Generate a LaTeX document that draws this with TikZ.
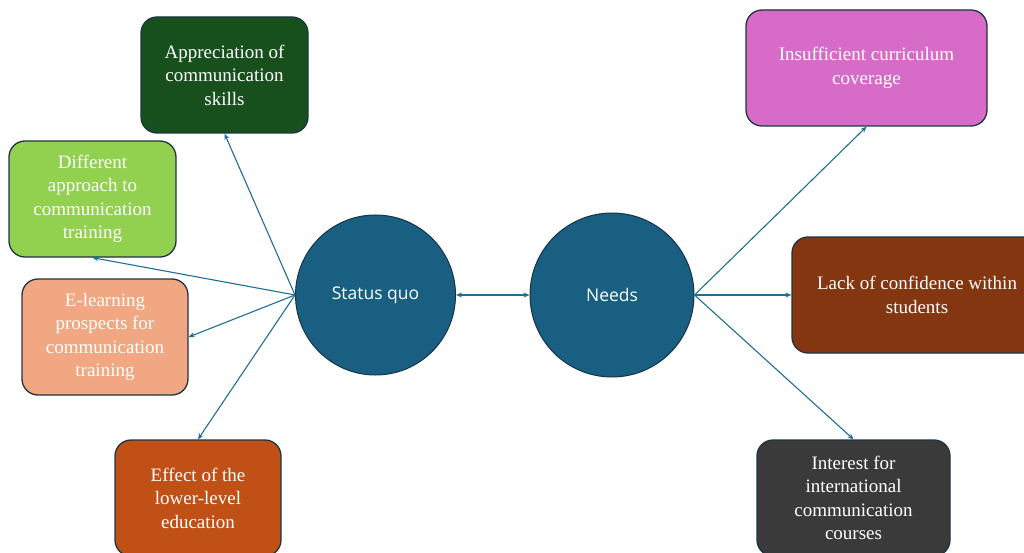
\documentclass[tikz,border=0pt]{standalone}
\usepackage{fontspec}
\setmainfont{Liberation Serif}
\newfontfamily\circfont{Open Sans}
\usetikzlibrary{arrows.meta}
\definecolor{hubblue}{HTML}{185F82}
\definecolor{hubedge}{HTML}{173447}
\definecolor{linkblue}{HTML}{1F6E93}
\definecolor{boxedge}{HTML}{1E3442}
\definecolor{dkgreen}{HTML}{17501D}
\definecolor{ltgreen}{HTML}{92D050}
\definecolor{salmon}{HTML}{F1A882}
\definecolor{rust}{HTML}{C05015}
\definecolor{orchid}{HTML}{D66CC8}
\definecolor{brown}{HTML}{843611}
\definecolor{charcoal}{HTML}{3A3A3A}
\tikzset{
  hub/.style={circle, draw=hubedge, line width=1pt, fill=hubblue, minimum size=160pt,
    text=white, font=\circfont\fontsize{17.5}{21}\selectfont},
  topic/.style={rounded corners=16pt, draw=boxedge, line width=1.3pt, minimum height=116pt,
    text=white, align=center, inner sep=2pt, font=\fontsize{19}{23.5}\selectfont},
  link/.style={draw=linkblue, line width=1.1pt, -{Stealth[length=6pt,width=5pt]}},
  twoway/.style={draw=linkblue, line width=1.1pt, {Stealth[length=6pt,width=5pt]}-{Stealth[length=6pt,width=5pt]}}
}
\begin{document}
\begin{tikzpicture}[x=1pt,y=-1pt]
\useasboundingbox (0,0) rectangle (1024,553);
\clip (0,0) rectangle (1024,553);

% central hubs
\node[hub] (sq) at (375.5,295) {Status quo};
\node[hub, minimum size=164pt] (nd) at (612,295) {Needs};

% status quo topics
\node[topic, fill=dkgreen, minimum width=167pt] (app) at (224.5,75)
  {Appreciation of\\communication\\skills};
\node[topic, fill=ltgreen, minimum width=167pt] (diff) at (92.5,199)
  {Different\\approach to\\communication\\training};
\node[topic, fill=salmon, minimum width=166pt] (elearn) at (105,337)
  {E-learning\\prospects for\\communication\\training};
\node[topic, fill=rust, minimum width=166pt] (effect) at (198,498)
  {Effect of the\\lower-level\\education};

% needs topics
\node[topic, fill=orchid, minimum width=241pt] (insuff) at (866.5,68)
  {Insufficient curriculum\\coverage};
\node[topic, fill=brown, minimum width=250pt] (lack) at (917,295)
  {Lack of confidence within\\students};
\node[topic, fill=charcoal, minimum width=193pt] (interest) at (853.5,498)
  {Interest for\\international\\communication\\courses};

% connectors
\draw[twoway] (sq.east) -- (nd.west);
\draw[link] (sq.west) -- (app.south);
\draw[link] (sq.west) -- (diff.south);
\draw[link] (sq.west) -- (elearn.east);
\draw[link] (sq.west) -- (effect.north);
\draw[link] (nd.east) -- (insuff.south);
\draw[link] (nd.east) -- (lack.west);
\draw[link] (nd.east) -- (interest.north);
\end{tikzpicture}
\end{document}
